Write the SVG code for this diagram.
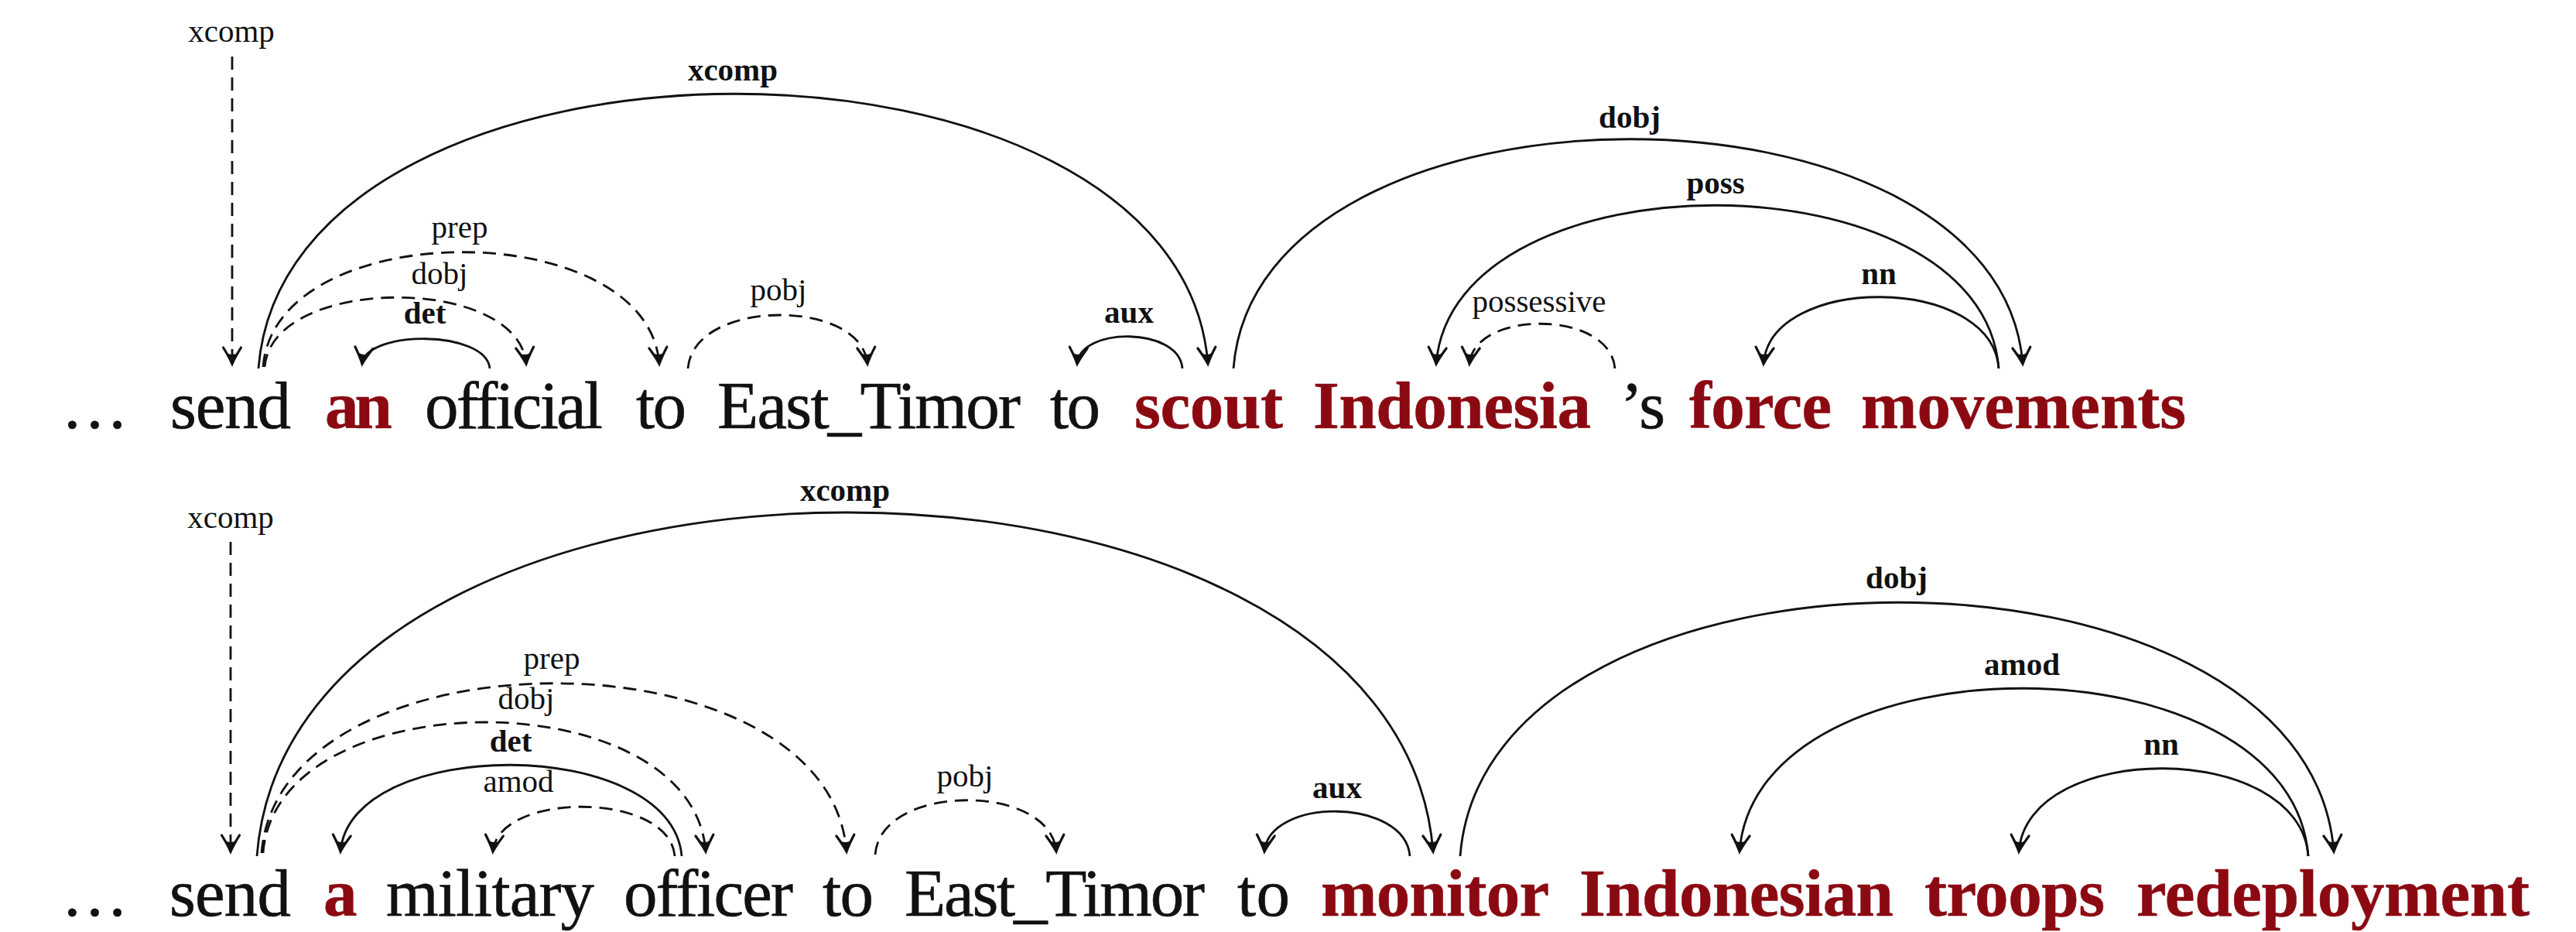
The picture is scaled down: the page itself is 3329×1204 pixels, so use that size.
<svg xmlns="http://www.w3.org/2000/svg" width="3329" height="1204" viewBox="0 0 3329 1204">
  <defs>
    <style>
      .w { font-family: "Liberation Serif", "Times New Roman", serif; font-size: 87px; fill: #111; stroke: #111; stroke-width: 0.6; }
      .r { fill: #8b0a12; stroke: #8b0a12; font-weight: bold; }
      .e { fill: none; stroke: #111; stroke-width: 2.8; marker-end: url(#arr); }
      .d { stroke-dasharray: 17 10; }
      .l { font-family: "Liberation Serif", "Times New Roman", serif; font-size: 41px; fill: #111; text-anchor: middle; }
      .b { font-weight: bold; }
    </style>
    <!-- arrowhead with curved barbs and a solid tip -->
    <marker id="arr" markerUnits="userSpaceOnUse" markerWidth="32" markerHeight="32" viewBox="-27 -16 32 32" refX="0" refY="0" orient="auto">
      <path d="M-21 -11.5 Q-9 -4 0 0 Q-9 4 -21 11.5" fill="none" stroke="#111" stroke-width="3.2" stroke-linecap="round"/>
      <path d="M1.5 0 Q-7 -4 -14 -7 Q-10 0 -14 7 Q-7 4 1.5 0 Z" fill="#111"/>
    </marker>
  </defs>
  <rect width="3329" height="1204" fill="#fff"/>

  <!-- sentence 1 -->
  <g id="s1-dots"><text class="w" x="79" y="553" textLength="86">…</text></g>
  <g id="s1-send"><text class="w" x="220" y="553" textLength="156">send</text></g>
  <g id="s1-an"><text class="w r" x="420" y="553" textLength="87">an</text></g>
  <g id="s1-official"><text class="w" x="549" y="553" textLength="230">official</text></g>
  <g id="s1-to1"><text class="w" x="822" y="553" textLength="65">to</text></g>
  <g id="s1-east-timor"><text class="w" x="927" y="553" textLength="392">East_Timor</text></g>
  <g id="s1-to2"><text class="w" x="1357" y="553" textLength="65">to</text></g>
  <g id="s1-scout"><text class="w r" x="1466" y="553" textLength="192">scout</text></g>
  <g id="s1-indonesia"><text class="w r" x="1697" y="553" textLength="359">Indonesia</text></g>
  <g id="s1-s"><text class="w" x="2094" y="553">’s</text></g>
  <g id="s1-force"><text class="w r" x="2183" y="553" textLength="184">force</text></g>
  <g id="s1-movements"><text class="w r" x="2405" y="553" textLength="420">movements</text></g>

  <!-- sentence 2 -->
  <g id="s2-dots"><text class="w" x="79" y="1183" textLength="86">…</text></g>
  <g id="s2-send"><text class="w" x="219" y="1183" textLength="157">send</text></g>
  <g id="s2-a"><text class="w r" x="418" y="1183" textLength="40">a</text></g>
  <g id="s2-military"><text class="w" x="499" y="1183" textLength="269">military</text></g>
  <g id="s2-officer"><text class="w" x="806" y="1183" textLength="219">officer</text></g>
  <g id="s2-to1"><text class="w" x="1063" y="1183" textLength="66">to</text></g>
  <g id="s2-east-timor"><text class="w" x="1169" y="1183" textLength="388">East_Timor</text></g>
  <g id="s2-to2"><text class="w" x="1599" y="1183" textLength="68">to</text></g>
  <g id="s2-monitor"><text class="w r" x="1707" y="1183" textLength="295">monitor</text></g>
  <g id="s2-indonesian"><text class="w r" x="2041" y="1183" textLength="406">Indonesian</text></g>
  <g id="s2-troops"><text class="w r" x="2487" y="1183" textLength="233">troops</text></g>
  <g id="s2-redeployment"><text class="w r" x="2761" y="1183" textLength="508">redeployment</text></g>

  <g id="connectors">
    <!-- sentence 1 arcs -->
    <path class="e d" d="M300 73 V470"/>
    <text class="l" x="299" y="54">xcomp</text>

    <path class="e" d="M334 476 C371 4 1524 4 1561 470"/>
    <text class="l b" x="947" y="104">xcomp</text>

    <path class="e d" d="M340 474 C355 277 837 277 852 470"/>
    <text class="l" x="594" y="307">prep</text>

    <path class="e d" d="M342 474 C352 355 670 355 680 470"/>
    <text class="l" x="568" y="367">dobj</text>

    <path class="e" d="M633 476 C628 426 473 426 468 470"/>
    <text class="l b" x="549" y="418">det</text>

    <path class="e d" d="M889 476 C896 385 1114 385 1121 470"/>
    <text class="l" x="1006" y="388">pobj</text>

    <path class="e" d="M1528 476 C1524 422 1396 422 1392 470"/>
    <text class="l b" x="1459" y="417">aux</text>

    <path class="e" d="M1594 476 C1625 82 2583 82 2614 470"/>
    <text class="l b" x="2106" y="165">dobj</text>

    <path class="e" d="M2583 476 C2561 196 1878 196 1856 470"/>
    <text class="l b" x="2217" y="250">poss</text>

    <path class="e d" d="M2087 476 C2081 400 1905 400 1899 470"/>
    <text class="l" x="1989" y="403">possessive</text>

    <path class="e" d="M2583 476 C2574 354 2288 354 2279 470"/>
    <text class="l b" x="2428" y="367">nn</text>

    <!-- sentence 2 arcs -->
    <path class="e d" d="M298 700 V1100"/>
    <text class="l" x="298" y="682">xcomp</text>

    <path class="e" d="M332 1106 C378 515 1806 515 1852 1100"/>
    <text class="l b" x="1092" y="647">xcomp</text>

    <path class="e d" d="M338 1102 C361 810 1071 810 1094 1100"/>
    <text class="l" x="713" y="864">prep</text>

    <path class="e d" d="M340 1102 C357 877 895 877 912 1100"/>
    <text class="l" x="680" y="916">dobj</text>

    <path class="e" d="M881 1106 C868 950 453 950 440 1100"/>
    <text class="l b" x="660" y="971">det</text>

    <path class="e d" d="M872 1106 C865 1022 644 1022 637 1100"/>
    <text class="l" x="670" y="1023">amod</text>

    <path class="e d" d="M1131 1104 C1138 1011 1358 1011 1365 1100"/>
    <text class="l" x="1247" y="1016">pobj</text>

    <path class="e" d="M1822 1106 C1816 1030 1640 1030 1634 1100"/>
    <text class="l b" x="1728" y="1031">aux</text>

    <path class="e" d="M1887 1106 C1921 670 2982 670 3016 1100"/>
    <text class="l b" x="2451" y="760">dobj</text>

    <path class="e" d="M2983 1106 C2961 818 2270 818 2248 1100"/>
    <text class="l b" x="2613" y="872">amod</text>

    <path class="e" d="M2983 1106 C2972 956 2620 956 2609 1100"/>
    <text class="l b" x="2793" y="975">nn</text>
  </g>
</svg>
